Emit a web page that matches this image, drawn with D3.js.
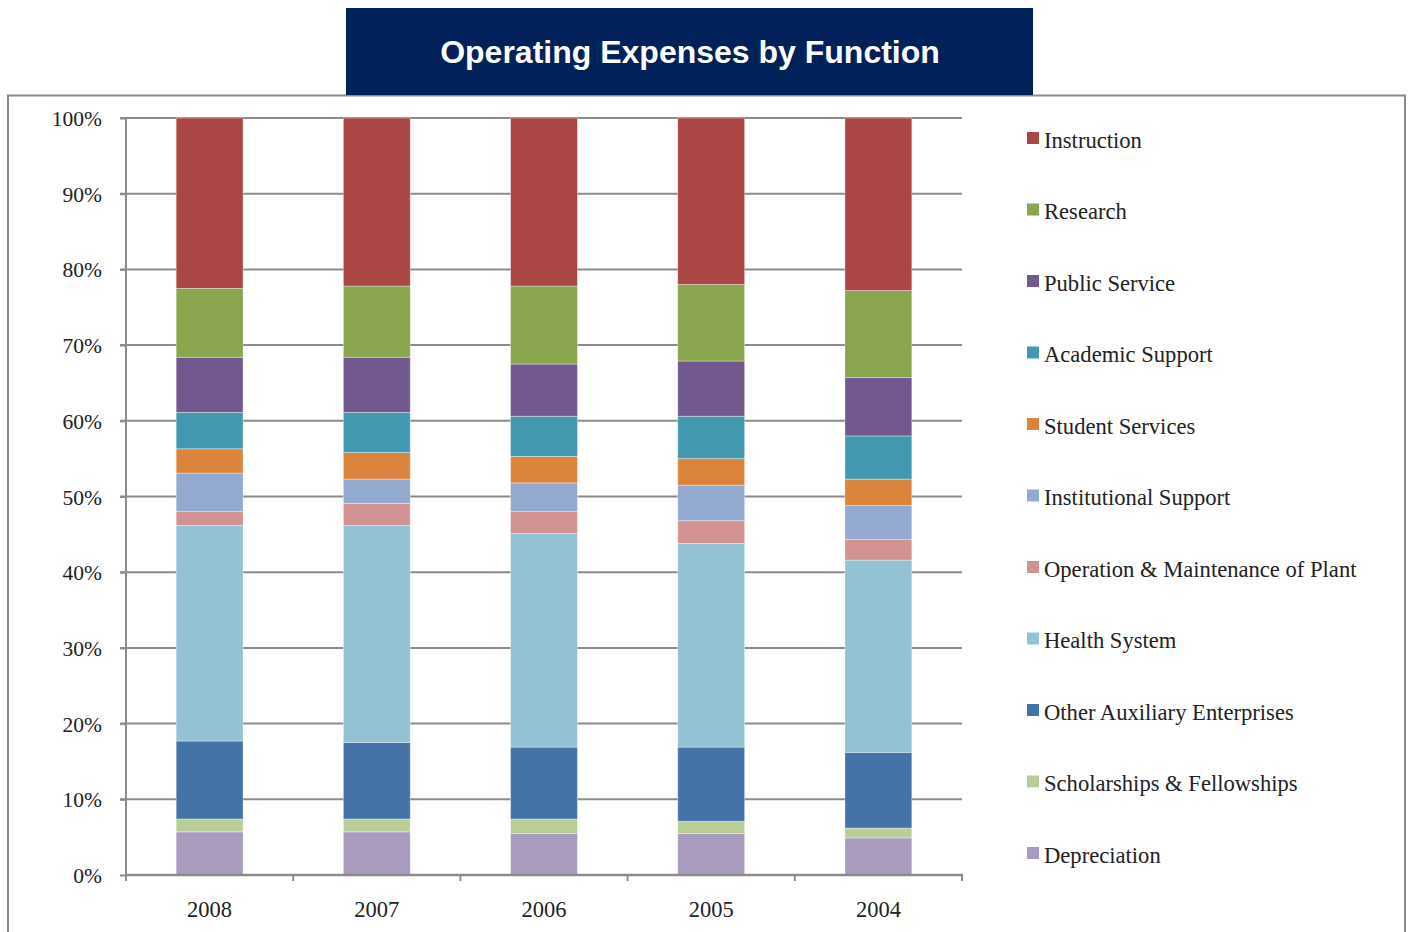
<!DOCTYPE html>
<html><head><meta charset="utf-8">
<script src="https://cdn.jsdelivr.net/npm/d3@7"></script>
<style>body{margin:0;background:#fff}svg{display:block}</style>
</head><body>
<script>
const years = ["2008","2007","2006","2005","2004"];
const seriesNames = ["Instruction","Research","Public Service","Academic Support","Student Services","Institutional Support","Operation & Maintenance of Plant","Health System","Other Auxiliary Enterprises","Scholarships & Fellowships","Depreciation"];
const seriesColors = ["#AA4643","#89A54E","#71588F","#4198AF","#DB843D","#93A9CF","#D19392","#92C2D4","#4572A7","#B9CD96","#A99BBD"];
// values per year, 2008..2004 (percent)
const instruction   = [22.5,22.2,22.2,22.0,22.8];
const research      = [9.1, 9.4, 10.3,10.1,11.5];
const publicService = [7.3, 7.3, 6.9, 7.3, 7.7];
const academicSupport=[4.8, 5.3, 5.3, 5.6, 5.7];
const studentServices=[3.2, 3.5, 3.5, 3.5, 3.5];
const instSupport   = [5.1, 3.2, 3.8, 4.7, 4.5];
const operationMaint= [1.8, 2.9, 2.9, 3.0, 2.7];
const healthSystem  = [28.5,28.7,28.2,26.9,25.4];
const otherAux      = [10.3,10.1,9.5, 9.8, 10.0];
const scholarships  = [1.7, 1.7, 1.9, 1.6, 1.3];
const depreciation  = [5.7, 5.7, 5.5, 5.5, 4.9];
const yTicks = [0,10,20,30,40,50,60,70,80,90,100];

const seriesValues = [instruction,research,publicService,academicSupport,studentServices,instSupport,operationMaint,healthSystem,otherAux,scholarships,depreciation];

(function(){
const W=1408,H=932;
const svg=d3.select("body").append("svg").attr("width",W).attr("height",H);

// outer frame
svg.append("rect").attr("x",8).attr("y",95.5).attr("width",1397).attr("height",H).attr("fill","none").attr("stroke","#8a8a8a").attr("stroke-width",2);
// title box
svg.append("rect").attr("x",346).attr("y",8).attr("width",687).attr("height",87).attr("fill","#00215A");
svg.append("text").attr("x",690).attr("y",63).attr("text-anchor","middle").attr("fill","#fff")
  .style("font-family","Liberation Sans, Arial, sans-serif").style("font-weight","bold").style("font-size","32px")
  .text("Operating Expenses by Function");

const pL=126,pR=962,pT=118,pB=875;
const x=d3.scaleBand().domain(years).range([pL,pR]).paddingInner(0.6).paddingOuter(0.3);
const xb=d3.scaleBand().domain(years).range([pL,pR]);
const y=d3.scaleLinear().domain([0,100]).range([pB,pT]);

// gridlines
svg.append("g").selectAll("line").data(yTicks.filter(d=>d>0)).join("line")
  .attr("x1",pL-6).attr("x2",pR).attr("y1",d=>y(d)).attr("y2",d=>y(d))
  .attr("stroke","#8c8c8c").attr("stroke-width",2);

// stacked data
const table=years.map((yr,i)=>{const o={year:yr};seriesNames.forEach((s,j)=>o[s]=seriesValues[j][i]);return o;});
const stack=d3.stack().keys(seriesNames.slice().reverse());
const layers=stack(table);
const color=d3.scaleOrdinal().domain(seriesNames).range(seriesColors);

svg.append("g").selectAll("g").data(layers).join("g").attr("fill",d=>color(d.key))
  .selectAll("rect").data(d=>d).join("rect")
  .attr("x",d=>x(d.data.year)).attr("width",x.bandwidth())
  .attr("y",d=>y(d[1])).attr("height",d=>y(d[0])-y(d[1]))
  .attr("stroke","rgba(255,255,255,0.45)").attr("stroke-width",0.8);

// y axis
const yAxis=d3.axisLeft(y).tickValues(yTicks).tickFormat(d=>d+"%").tickSize(6).tickPadding(18);
const gy=svg.append("g").attr("transform",`translate(${pL},0)`).call(yAxis);
gy.select(".domain").attr("stroke","#8c8c8c").attr("stroke-width",2).attr("d",`M0,${pT}V${pB}`);
gy.selectAll(".tick line").attr("stroke","#8c8c8c").attr("stroke-width",2);
gy.selectAll("text").style("font-family","Liberation Serif, Times New Roman, serif").style("font-size","21.5px").attr("fill","#222").attr("dy","0.35em");

// x axis
const gx=svg.append("g").attr("transform",`translate(0,${pB})`);
gx.append("line").attr("x1",pL-1).attr("x2",pR+1).attr("stroke","#8c8c8c").attr("stroke-width",2.5);
const bounds=years.map(d=>xb(d)).concat([pR]);
gx.selectAll(".tk").data(bounds).join("line").attr("class","tk").attr("x1",d=>d).attr("x2",d=>d).attr("y1",0).attr("y2",6).attr("stroke","#8c8c8c").attr("stroke-width",2);
gx.selectAll("text").data(years).join("text").attr("x",d=>xb(d)+xb.bandwidth()/2).attr("y",42)
  .attr("text-anchor","middle").style("font-family","Liberation Serif, Times New Roman, serif").style("font-size","22.5px").attr("fill","#222").text(d=>d);

// legend
const lg=svg.append("g");
const ly=d3.scalePoint().domain(seriesNames).range([140,855]);
const items=lg.selectAll("g").data(seriesNames).join("g").attr("transform",d=>`translate(1027,${ly(d)})`);
items.append("rect").attr("x",0).attr("y",-8).attr("width",12).attr("height",12).attr("fill",d=>color(d));
items.append("text").attr("x",17).attr("y",0).attr("dy","0.35em")
  .style("font-family","Liberation Serif, Times New Roman, serif").style("font-size","22.6px").attr("fill","#222").text(d=>d);
})();
</script>
</body></html>
